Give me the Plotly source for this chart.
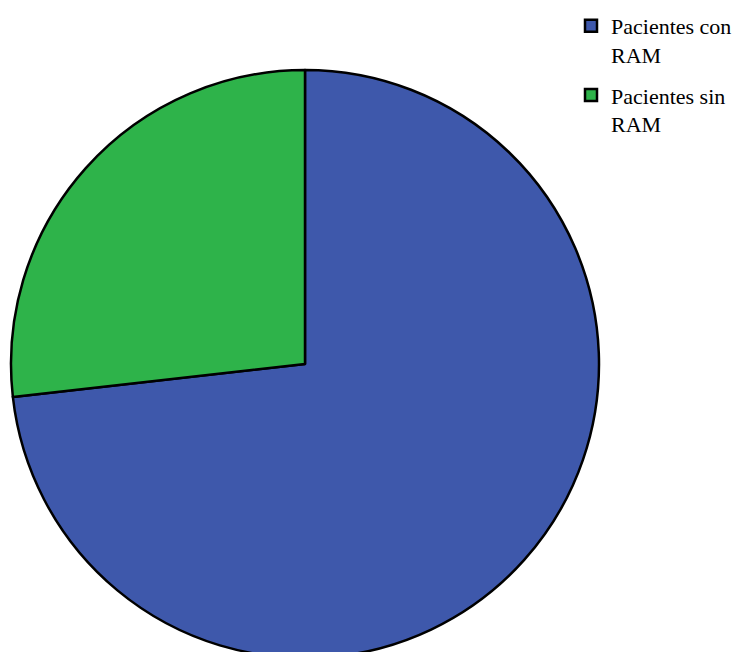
import plotly.graph_objects as go

labels = ["Pacientes con<br>RAM", "Pacientes sin<br>RAM"]
values = [41, 15]
colors = ["#3E58AB", "#2EB34A"]

W, H = 735, 660
fig = go.Figure()
fig.add_trace(go.Pie(
    labels=labels,
    values=values,
    sort=False,
    direction="clockwise",
    rotation=0,
    textinfo="none",
    hoverinfo="label+percent",
    showlegend=False,
    marker=dict(colors=colors, line=dict(color="black", width=2.5)),
    domain=dict(x=[11/W, 599/W], y=[1-658/H, 1-70/H]),
))
# legend entries (one group each so the group gap can be set)
for i, (lab, col) in enumerate(zip(labels, colors)):
    fig.add_trace(go.Scatter(
        x=[None], y=[None], mode="markers", name=lab,
        legendgroup=f"g{i}",
        marker=dict(symbol="square", size=12, color=col,
                    line=dict(color="black", width=2.5)),
        hoverinfo="skip",
    ))
fig.update_layout(
    width=W, height=H,
    margin=dict(l=0, r=0, t=0, b=0, autoexpand=False),
    paper_bgcolor="white",
    plot_bgcolor="white",
    showlegend=True,
    xaxis=dict(visible=False),
    yaxis=dict(visible=False),
    legend=dict(
        x=571/W, y=1-5/H, xanchor="left", yanchor="top",
        font=dict(family="Times New Roman, Liberation Serif, serif", size=22, color="black"),
        valign="top",
        tracegroupgap=9,
        bgcolor="rgba(0,0,0,0)",
    ),
)
fig.write_html("out.html")
